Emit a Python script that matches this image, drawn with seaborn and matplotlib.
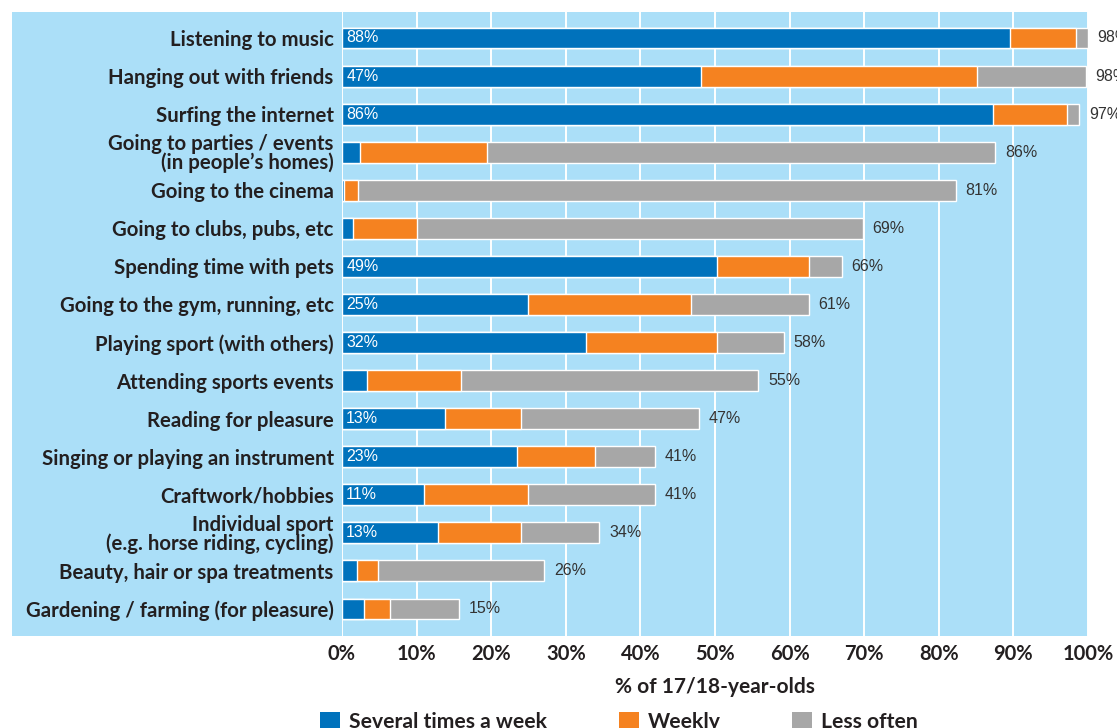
#!/usr/bin/env python
"""Leisure activities of 17/18-year-olds: stacked horizontal bars."""

import matplotlib
matplotlib.use('Agg')
import matplotlib.pyplot as plt
from matplotlib.patches import Rectangle, Patch
import seaborn as sns
import pandas as pd
import numpy as np

# Data (% of 17/18-year-olds)
activities = [
    'Listening to music',
    'Hanging out with friends',
    'Surfing the internet',
    'Going to parties / events\n(in people\u2019s homes)',
    'Going to the cinema',
    'Going to clubs, pubs, etc',
    'Spending time with pets',
    'Going to the gym, running, etc',
    'Playing sport (with others)',
    'Attending sports events',
    'Reading for pleasure',
    'Singing or playing an instrument',
    'Craftwork/hobbies',
    'Individual sport\n(e.g. horse riding, cycling)',
    'Beauty, hair or spa treatments',
    'Gardening / farming (for pleasure)',
]
several = [89.5, 48.1, 87.3, 2.4, 0.3, 1.5, 50.3, 24.9, 32.7, 3.4, 13.8, 23.4, 11.0, 12.9, 2.0, 3.0]
weekly = [8.9, 37.0, 9.9, 17.0, 1.8, 8.6, 12.3, 21.9, 17.6, 12.6, 10.2, 10.5, 13.9, 11.1, 2.8, 3.4]
less_often = [1.6, 14.6, 1.6, 68.2, 80.2, 59.7, 4.4, 15.8, 8.9, 39.8, 23.8, 8.1, 17.1, 10.5, 22.3, 9.3]
total_labels = ['98%', '98%', '97%', '86%', '81%', '69%', '66%', '61%', '58%', '55%',
                '47%', '41%', '41%', '34%', '26%', '15%']
several_labels = ['88%', '47%', '86%', None, None, None, '49%', '25%', '32%', None,
                  '13%', '23%', '11%', '13%', None, None]
series_names = ['Several times a week', 'Weekly', 'Less often']

palette = {
    'Several times a week': '#0072bc',
    'Weekly': '#f58220',
    'Less often': '#a7a7a7',
}
BG = '#abdff8'
INK = '#231f20'
LABEL_FONT = ['Lato', 'DejaVu Sans']

sns.set_style('white')
plt.rcParams['font.family'] = LABEL_FONT

W, H = 1117, 728
fig = plt.figure(figsize=(W / 100, H / 100), dpi=100)
fig.patch.set_facecolor('white')

# light blue panel behind labels and bars
fig.patches.append(Rectangle((12 / W, 1 - 636 / H), (1088 - 12) / W, (636 - 12) / H,
                             transform=fig.transFigure, facecolor=BG,
                             edgecolor='none', zorder=-5))
ax = fig.add_axes([342 / W, 1 - 636 / H, (1088 - 342) / W, (636 - 12) / H])
ax.set_facecolor(BG)

df = pd.DataFrame({
    'Activity': activities,
    'cum1': np.array(several),
    'cum2': np.array(several) + np.array(weekly),
    'cum3': np.array(several) + np.array(weekly) + np.array(less_often),
})

for col, name in [('cum3', 'Less often'), ('cum2', 'Weekly'), ('cum1', 'Several times a week')]:
    sns.barplot(data=df, x=col, y='Activity', color=palette[name], orient='h',
                width=0.55, saturation=1, ax=ax, zorder=3)

ax.set_xlim(0, 100)
ax.set_ylim(15.71, -0.683)
ax.set_xticks(np.arange(0, 101, 10))
ax.set_xticklabels([f'{v}%' for v in range(0, 101, 10)])
ax.set_axisbelow(True)
ax.xaxis.grid(True, color='white', linewidth=1.4)
ax.yaxis.grid(False)
for s in ax.spines.values():
    s.set_visible(False)
ax.tick_params(axis='both', length=0)
ax.tick_params(axis='x', pad=6, labelsize=14.5, labelcolor=INK)
ax.tick_params(axis='y', pad=6, labelsize=14.7, labelcolor=INK)
for lbl in ax.get_xticklabels() + ax.get_yticklabels():
    lbl.set_fontweight('bold')
for lbl in ax.get_yticklabels():
    lbl.set_linespacing(0.92)

ax.set_ylabel('')
ax.set_xlabel('% of 17/18-year-olds', fontsize=15, fontweight='bold', color=INK, labelpad=9)

for i, (tot, lab) in enumerate(zip(df['cum3'], total_labels)):
    ax.annotate(lab, (tot, i), xytext=(7, 0), textcoords='offset points',
                va='center', ha='left', fontsize=11.5, color='#333333',
                family='Liberation Sans', zorder=5)
for i, lab in enumerate(several_labels):
    if lab:
        ax.annotate(lab, (0, i), xytext=(3, 0), textcoords='offset points',
                    va='center', ha='left', fontsize=11.5, color='white',
                    family='Liberation Sans', zorder=5)

handles = [Patch(facecolor=palette[n], edgecolor='none') for n in series_names]
fig.legend(handles, series_names, loc='upper left', bbox_to_anchor=(320 / W, 1 - 712 / H),
           ncol=3, frameon=False, handlelength=0.95, handleheight=0.95,
           handletextpad=0.42, columnspacing=3.4, borderpad=0, borderaxespad=0,
           prop={'weight': 'bold', 'size': 15.2}, labelcolor=INK)

fig.savefig('out.png', dpi=100, facecolor='white')
plt.close(fig)
